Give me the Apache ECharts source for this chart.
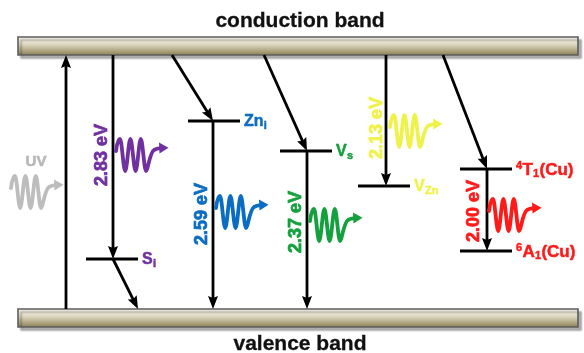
<!DOCTYPE html>
<html><head><meta charset="utf-8">
<script src="https://cdn.jsdelivr.net/npm/echarts@6/dist/echarts.min.js"></script>
<style>html,body{margin:0;padding:0;background:#fff}#c{width:584px;height:353px}</style>
</head><body><div id="c"></div>
<script>
// Schematic energy diagram. x = horizontal diagram position, e = height above valence-band top (diagram units)
const bandNames = ['conduction band', 'valence band'];
const bandLow = [254, -18];
const bandHigh = [272, 0];
const bandSpan = [18, 578];
const bandLabelE = [288, -35];
const bandLabelX = [300, 300];

const levelNames = ['Si', 'Zni', 'Vs', 'VZn', '4T1(Cu)', '6A1(Cu)'];
const levelRich = ['{m|S}{s|i}', '{m|Zn}{s|i}', '{m|V}{s|s}', '{m|V}{s|Zn}', '{p|4}{r|T}{s|1}{r|(Cu)}', '{p|6}{r|A}{s|1}{r|(Cu)}'];
const levelE = [50, 188, 158, 123, 140, 58];
const levelX0 = [86, 188, 280, 358, 460, 460];
const levelX1 = [138, 240, 332, 410, 512, 512];

// transitions: start [x, e] -> end [x, e]
const transStart = [[66, 0], [113, 254], [113, 50], [172, 254], [213, 188], [264, 254], [307, 158], [386, 254], [443, 254], [487, 140]];
const transEnd   = [[66, 254], [113, 50], [138, 0], [213, 188], [213, 0], [307, 158], [307, 0], [386, 123], [487, 140], [487, 58]];

const emissionLabels = ['2.83 eV', '2.59 eV', '2.37 eV', '2.13 eV', '2.00 eV'];
const emissionX = [102, 202, 296, 377, 474];
const emissionE = [154, 95, 87, 181, 98];

const waveNames = ['UV', '2.83 eV', '2.59 eV', '2.37 eV', '2.13 eV', '2.00 eV'];
const waveX = [11, 116, 216, 310, 390, 489];
const waveE = [117, 154, 97, 84, 178, 94];
const uvLabel = 'UV';
const uvLabelPos = [36, 147];

// ---- styles ----
const FONT = '"Liberation Sans", Arial, Helvetica, sans-serif';
const waveColors = ['#bdbdbd', '#7030a0', '#0a6cc2', '#14a03c', '#f0f24c', '#ff1a1a'];
const emissionColors = ['#7030a0', '#0a6cc2', '#14a03c', '#f0f24c', '#ff1a1a'];
const levelColors = ['#7030a0', '#0a6cc2', '#14a03c', '#f0f24c', '#ff1a1a', '#ff1a1a'];
const PIECE = {
  m: {font: 'bold 16px ' + FONT, dy: 0},
  r: {font: 'bold 17px ' + FONT, dy: 0},
  s: {font: 'bold 11px ' + FONT, dy: 4},
  p: {font: 'bold 11px ' + FONT, dy: -4}
};

const measureCtx = document.createElement('canvas').getContext('2d');
function measure(text, font) { measureCtx.font = font; return measureCtx.measureText(text).width; }

const chart = echarts.init(document.getElementById('c'), null, {renderer: 'canvas'});

const WAVE_PATH = 'M0 14 C1 6 2.5 2 4 2 C5.8 2 7.4 34 9.2 34 C11 34 12.6 2 14.4 2 C16.2 2 17.8 34 19.6 34 C21.4 34 23 2 24.8 2 C26.6 2 28.2 34 30 34 C31.8 34 33.5 16 38 13 C40 11.8 42 11.4 44.5 11.2';

function textStyle(extra) {
  return Object.assign({x: 0, y: 0, align: 'center', verticalAlign: 'middle', textAlign: 'center', textVerticalAlign: 'middle'}, extra);
}

const base = {type: 'custom', coordinateSystem: 'cartesian2d', silent: true, clip: false, animation: false};

chart.setOption({
  animation: false,
  grid: {left: 0, right: 0, top: 0, bottom: 0},
  xAxis: {type: 'value', min: 0, max: 584, show: false},
  yAxis: {type: 'value', min: -44, max: 309, show: false},
  series: [
    Object.assign({}, base, {
      name: 'bands',
      data: bandNames.map((n, i) => [bandSpan[0], bandLow[i], bandSpan[1], bandHigh[i]]),
      renderItem(p, api) {
        const a = api.coord([api.value(0), api.value(3)]);
        const b = api.coord([api.value(2), api.value(1)]);
        return {type: 'rect', shape: {x: a[0], y: a[1], width: b[0] - a[0], height: b[1] - a[1]},
          style: {fill: new echarts.graphic.LinearGradient(0, 0, 0, 1, [
            {offset: 0, color: '#fcfbf5'}, {offset: 0.4, color: '#e0dbc3'}, {offset: 1, color: '#887c50'}]),
            stroke: '#5c5c5c', lineWidth: 1.6, shadowColor: 'rgba(0,0,0,0.3)', shadowBlur: 2, shadowOffsetX: 3, shadowOffsetY: 3}};
      }
    }),
    Object.assign({}, base, {
      name: 'band labels',
      data: bandNames.map((n, i) => [bandLabelX[i], bandLabelE[i]]),
      renderItem(p, api) {
        const c = api.coord([api.value(0), api.value(1)]);
        return {type: 'text', x: c[0], y: c[1], style: textStyle({text: bandNames[p.dataIndex], font: 'bold 21px ' + FONT, fill: '#111', stroke: '#111', lineWidth: 0.3})};
      }
    }),
    Object.assign({}, base, {
      name: 'levels',
      data: levelNames.map((n, i) => [levelX0[i], levelE[i], levelX1[i]]),
      renderItem(p, api) {
        const a = api.coord([api.value(0), api.value(1)]);
        const b = api.coord([api.value(2), api.value(1)]);
        return {type: 'line', shape: {x1: a[0], y1: a[1], x2: b[0], y2: b[1]}, style: {stroke: '#000', lineWidth: 3}};
      }
    }),
    Object.assign({}, base, {
      name: 'transitions',
      data: transStart.map((s, i) => [s[0], s[1], transEnd[i][0], transEnd[i][1]]),
      renderItem(p, api) {
        const a = api.coord([api.value(0), api.value(1)]);
        const b = api.coord([api.value(2), api.value(3)]);
        const dx = b[0] - a[0], dy = b[1] - a[1], L = Math.hypot(dx, dy), ux = dx / L, uy = dy / L;
        const hl = 13, hw = 5, notch = 2;
        const bx = b[0] - ux * hl, by = b[1] - uy * hl, nx = -uy, ny = ux;
        return {type: 'group', children: [
          {type: 'line', shape: {x1: a[0], y1: a[1], x2: b[0] - ux * (hl - 3), y2: b[1] - uy * (hl - 3)}, style: {stroke: '#000', lineWidth: 2.8}},
          {type: 'polygon', shape: {points: [[b[0], b[1]], [bx + nx * hw, by + ny * hw], [bx + ux * notch, by + uy * notch], [bx - nx * hw, by - ny * hw]]}, style: {fill: '#000'}}
        ]};
      }
    }),
    Object.assign({}, base, {
      name: 'level labels',
      data: levelNames.map((n, i) => [levelX1[i], levelE[i]]),
      renderItem(p, api) {
        const c = api.coord([api.value(0), api.value(1)]);
        const col = levelColors[p.dataIndex];
        const children = [];
        let x = 0;
        const re = /\{(\w)\|([^}]*)\}/g;
        let mm;
        while ((mm = re.exec(levelRich[p.dataIndex]))) {
          const st = PIECE[mm[1]];
          children.push({type: 'text', x: x, y: st.dy, style: {text: mm[2], x: 0, y: 0, align: 'left', textAlign: 'left', verticalAlign: 'middle', textVerticalAlign: 'middle',
            font: st.font, fill: col, stroke: col, lineWidth: 0.5}});
          x += measure(mm[2], st.font) + 0.3;
        }
        return {type: 'group', x: c[0] + 4, y: c[1] + 1, children};
      }
    }),
    Object.assign({}, base, {
      name: 'emission labels',
      data: emissionLabels.map((t, i) => [emissionX[i], emissionE[i]]),
      renderItem(p, api) {
        const c = api.coord([api.value(0), api.value(1)]);
        const col = emissionColors[p.dataIndex];
        return {type: 'text', x: c[0], y: c[1], rotation: Math.PI / 2,
          style: textStyle({text: emissionLabels[p.dataIndex], font: 'bold 18px ' + FONT, fill: col, stroke: col, lineWidth: 0.7})};
      }
    }),
    Object.assign({}, base, {
      name: 'photons',
      data: waveNames.map((n, i) => [waveX[i], waveE[i]]),
      renderItem(p, api) {
        const c = api.coord([api.value(0), api.value(1)]);
        const col = waveColors[p.dataIndex];
        return {type: 'group', x: c[0], y: c[1] - 18, children: [
          {type: 'path', shape: {pathData: WAVE_PATH}, style: {fill: 'none', stroke: col, lineWidth: 3.8, lineCap: 'round', lineJoin: 'round'}},
          {type: 'polygon', shape: {points: [[43, 5.5], [52.5, 10.8], [43.5, 16.5]]}, style: {fill: col}}
        ]};
      }
    }),
    Object.assign({}, base, {
      name: 'uv label',
      data: [uvLabelPos],
      renderItem(p, api) {
        const c = api.coord([api.value(0), api.value(1)]);
        return {type: 'text', x: c[0], y: c[1], style: textStyle({text: uvLabel, font: 'bold 15px ' + FONT, fill: '#b8b8b8', stroke: '#b8b8b8', lineWidth: 0.6})};
      }
    })
  ]
});
</script></body></html>
